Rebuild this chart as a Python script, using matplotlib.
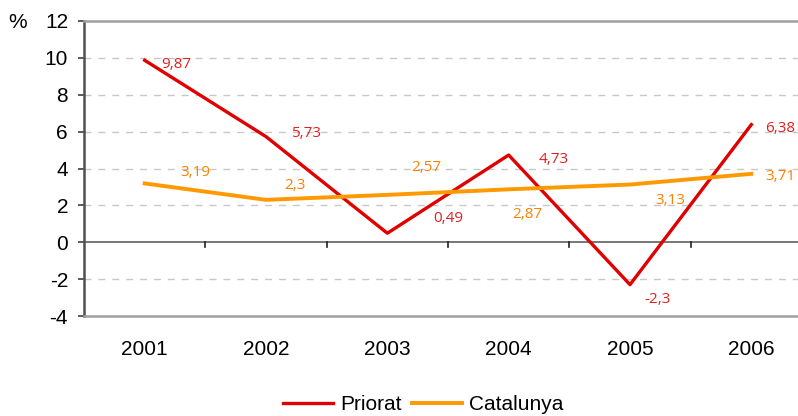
import matplotlib
matplotlib.use("Agg")
import matplotlib.pyplot as plt

years = ["2001", "2002", "2003", "2004", "2005", "2006"]
priorat = [9.87, 5.73, 0.49, 4.73, -2.3, 6.38]
catalunya = [3.19, 2.3, 2.57, 2.87, 3.13, 3.71]
priorat_labels = ["9,87", "5,73", "0,49", "4,73", "-2,3", "6,38"]
catalunya_labels = ["3,19", "2,3", "2,57", "2,87", "3,13", "3,71"]
yticks = [-4, -2, 0, 2, 4, 6, 8, 10, 12]

# label offsets in pixels (dx, dy), dy up
priorat_off = [(32, -4), (40, 3), (61, 15), (45, -4), (28, -15), (29, -4)]
catalunya_off = [(51, 11), (29, 14), (39, 27), (19, -25), (40, -16), (29, -3)]

RED = "#E00000"
RED_TXT = "#E02020"
ORANGE = "#FF9900"
ORANGE_TXT = "#FF8000"

plt.rcParams["font.family"] = ["Liberation Sans", "DejaVu Sans"]

fig = plt.figure(figsize=(7.98, 4.16), dpi=100)
ax = fig.add_axes([84 / 798, 1 - 316 / 416, 728 / 798, 295 / 416])

x = list(range(len(years)))
ax.plot(x, priorat, color=RED, lw=2.4, label="Priorat", zorder=3)
ax.plot(x, catalunya, color=ORANGE, lw=2.8, label="Catalunya", zorder=3)

for i in x:
    ax.annotate(priorat_labels[i], (i, priorat[i]), xytext=priorat_off[i],
                textcoords="offset pixels", ha="center", va="center",
                color=RED_TXT, fontsize=11, family="Open Sans")
    ax.annotate(catalunya_labels[i], (i, catalunya[i]), xytext=catalunya_off[i],
                textcoords="offset pixels", ha="center", va="center",
                color=ORANGE_TXT, fontsize=11, family="Open Sans")

ax.set_xlim(-0.5, 5.5)
ax.set_ylim(-4, 12)
ax.set_yticks(yticks)
ax.set_yticklabels([str(v) for v in yticks], fontsize=15)
ax.set_xticks(x)
ax.set_xticklabels(years, fontsize=15)
ax.tick_params(axis="x", length=0, pad=17)
ax.tick_params(axis="y", length=4.5, width=1.2, color="#404040", pad=7)

for v in yticks:
    if v not in (0, -4, 12):
        ax.axhline(v, color="#C8C8C8", lw=1, ls=(0, (5, 5)), zorder=1)

# zero line with category ticks
ax.axhline(0, color="#606060", lw=1.2, zorder=2)
for b in [i + 0.5 for i in x[:-1]]:
    ax.plot([b, b], [0, -0.28], color="#202020", lw=1.2, zorder=2)

for s in ["top", "bottom"]:
    ax.spines[s].set_color("#A0A0A0")
    ax.spines[s].set_linewidth(1.8)
ax.spines["left"].set_color("#505050")
ax.spines["left"].set_linewidth(1.8)
ax.spines["right"].set_visible(False)

fig.text(18 / 798, 1 - 22 / 416, "%", fontsize=15, ha="center", va="center")

fig.legend(loc="center", bbox_to_anchor=(423 / 798, 1 - 405 / 416), ncol=2,
           frameon=False, fontsize=15, handlelength=2.4, handletextpad=0.35,
           columnspacing=0.5, borderpad=0)

fig.savefig("out.png", dpi=100)
